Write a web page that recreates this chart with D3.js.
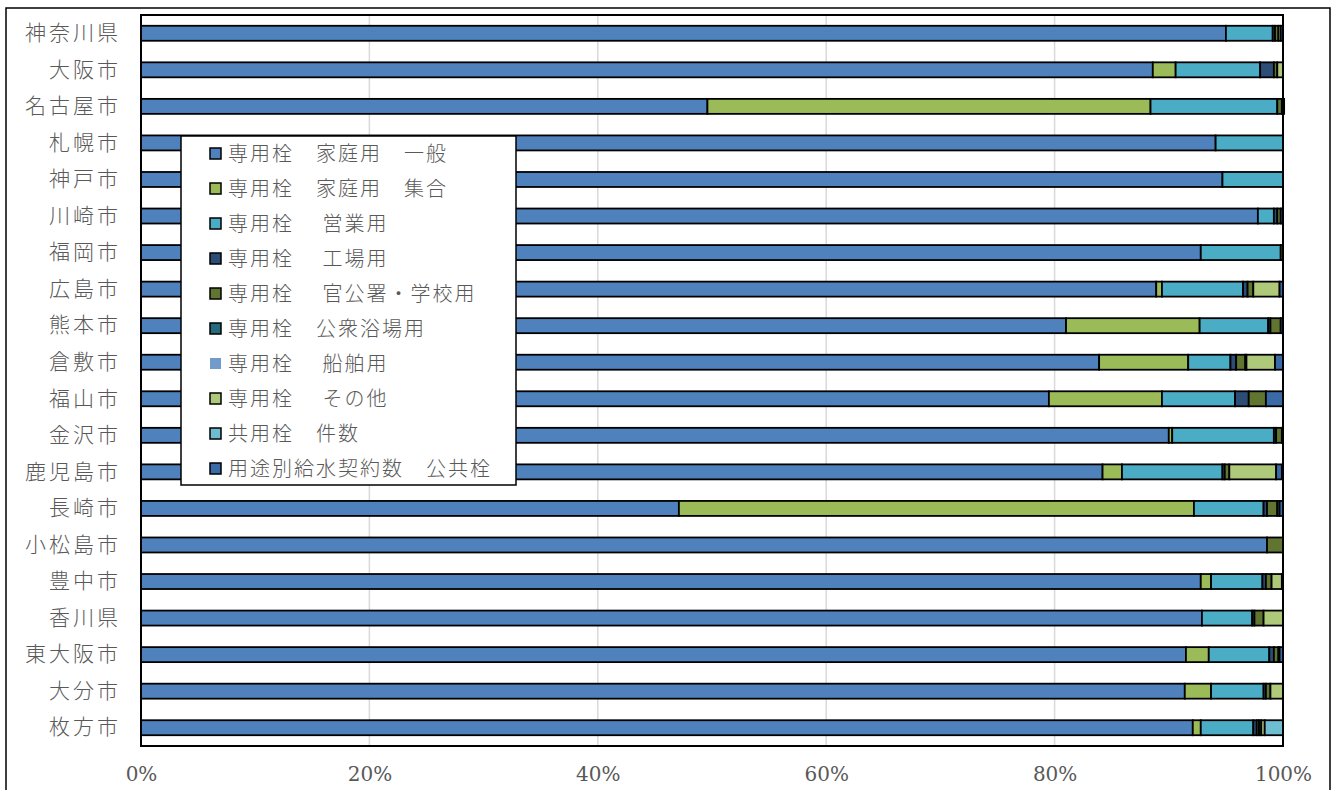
<!DOCTYPE html>
<html>
<head>
<meta charset="utf-8">
<script src="https://cdn.jsdelivr.net/npm/d3@7"></script>
<style>
  body { margin: 0; background: #fff; }
  svg text { fill: #595959; }
</style>
</head>
<body>
<div id="chart"></div>
<script>
const cities = ['神奈川県', '大阪市', '名古屋市', '札幌市', '神戸市', '川崎市', '福岡市', '広島市', '熊本市', '倉敷市',
  '福山市', '金沢市', '鹿児島市', '長崎市', '小松島市', '豊中市', '香川県', '東大阪市', '大分市', '枚方市'];

const seriesNames = ['専用栓\u3000家庭用\u3000一般', '専用栓\u3000家庭用\u3000集合', '専用栓\u3000 営業用', '専用栓\u3000 工場用',
  '専用栓\u3000 官公署・学校用', '専用栓\u3000公衆浴場用', '専用栓\u3000 船舶用', '専用栓\u3000 その他',
  '共用栓\u3000件数', '用途別給水契約数\u3000公共栓'];

const seriesColors = ['#4f81bd', '#9bbb59', '#4bacc6', '#2c4d75', '#5f7530', '#276a7c', '#729aca', '#afc97a', '#6fbdd1', '#3a6ba6'];

// percent shares per city, one array per series (same order as cities)
const ippan   = [95.0, 88.6, 49.6, 94.1, 94.7, 97.8, 92.8, 88.9, 81.0, 83.9, 79.5, 90.0, 84.2, 47.1, 98.6, 92.8, 92.9, 91.5, 91.4, 92.1];
const shugo   = [0, 2.0, 38.8, 0, 0, 0, 0, 0.5, 11.7, 7.8, 9.9, 0.3, 1.7, 45.1, 0, 0.9, 0, 2.0, 2.3, 0.7];
const eigyo   = [4.1, 7.4, 11.1, 5.9, 5.3, 1.4, 7.0, 7.1, 6.0, 3.7, 6.4, 8.9, 8.8, 6.1, 0, 4.5, 4.4, 5.3, 4.6, 4.6];
const kojo    = [0.2, 1.2, 0, 0, 0, 0.3, 0, 0.4, 0.2, 0.5, 1.2, 0.2, 0.2, 0.3, 0, 0.3, 0.2, 0.4, 0.2, 0.3];
const kankosho = [0.3, 0.3, 0.4, 0, 0, 0.3, 0.2, 0.5, 0.9, 0.8, 1.5, 0.5, 0.4, 0.9, 1.4, 0.5, 0.8, 0.4, 0.4, 0.2];
const yokujo  = [0, 0, 0, 0, 0, 0, 0, 0, 0, 0.1, 0, 0, 0, 0.2, 0, 0, 0, 0.1, 0, 0.2];
const senpaku = [0, 0, 0, 0, 0, 0, 0, 0, 0, 0, 0, 0, 0, 0, 0, 0, 0, 0, 0, 0];
const sonota  = [0.2, 0.5, 0, 0, 0, 0, 0, 2.3, 0, 2.5, 0, 0, 4.1, 0, 0, 0.9, 1.7, 0, 1.1, 0.3];
const kyoyo   = [0, 0, 0, 0, 0, 0, 0, 0, 0, 0, 0, 0, 0, 0, 0, 0, 0, 0, 0, 1.6];
const kokyo   = [0.2, 0, 0.2, 0, 0, 0.2, 0, 0.3, 0.2, 0.7, 1.5, 0.1, 0.5, 0.3, 0, 0.1, 0, 0.3, 0, 0];

const seriesValues = [ippan, shugo, eigyo, kojo, kankosho, yokujo, senpaku, sonota, kyoyo, kokyo];
const xTicks = [0, 20, 40, 60, 80, 100];

const width = 1343;
const height = 790;
const margin = {top: 15, right: 60, bottom: 44, left: 141};

const svg = d3.select('#chart')
  .append('svg')
  .attr('width', width)
  .attr('height', height);

// outer chart frame
svg.append('rect')
  .attr('x', 6).attr('y', 8)
  .attr('width', 1324).attr('height', 800)
  .attr('fill', 'none')
  .attr('stroke', '#000')
  .attr('stroke-width', 1.5);

const x = d3.scaleLinear()
  .domain([0, 100])
  .range([margin.left, width - margin.right]);

const y = d3.scaleBand()
  .domain(cities)
  .range([margin.top, height - margin.bottom])
  .paddingInner(0.59)
  .paddingOuter(0.295);

// gridlines
svg.append('g')
  .selectAll('line')
  .data(xTicks.slice(1, -1))
  .enter()
  .append('line')
  .attr('x1', d => x(d)).attr('x2', d => x(d))
  .attr('y1', margin.top).attr('y2', height - margin.bottom)
  .attr('stroke', '#d9d9d9')
  .attr('stroke-width', 1.5);

// stack the series per city
const rows = cities.map((c, i) => {
  const row = {city: c};
  seriesValues.forEach((vals, j) => { row['s' + j] = vals[i]; });
  return row;
});
const stack = d3.stack().keys(seriesValues.map((v, j) => 's' + j));
const stacked = stack(rows);

svg.append('g')
  .selectAll('g')
  .data(stacked)
  .enter()
  .append('g')
  .attr('fill', (d, j) => seriesColors[j])
  .selectAll('rect')
  .data(d => d.filter(s => s[1] - s[0] > 0))
  .enter()
  .append('rect')
  .attr('x', d => x(d[0]))
  .attr('width', d => x(d[1]) - x(d[0]))
  .attr('y', d => y(d.data.city))
  .attr('height', y.bandwidth())
  .attr('stroke', '#000')
  .attr('stroke-width', 1.8);

// plot area border
svg.append('rect')
  .attr('x', margin.left).attr('y', margin.top)
  .attr('width', width - margin.right - margin.left)
  .attr('height', height - margin.bottom - margin.top)
  .attr('fill', 'none')
  .attr('stroke', '#000')
  .attr('stroke-width', 2);

// category labels
const yAxis = svg.append('g')
  .attr('transform', 'translate(' + margin.left + ',0)')
  .call(d3.axisLeft(y).tickSize(0).tickPadding(20));
yAxis.select('.domain').remove();
yAxis.selectAll('text')
  .attr('font-family', '"Noto Sans CJK JP", sans-serif')
  .attr('font-weight', 300)
  .attr('font-size', 21)
  .attr('letter-spacing', 3)
  .style('fill', '#595959');

// x tick labels
const xAxis = svg.append('g')
  .attr('transform', 'translate(0,' + (height - margin.bottom) + ')')
  .call(d3.axisBottom(x).tickValues(xTicks).tickSize(0).tickPadding(21).tickFormat(d => d + '%'));
xAxis.select('.domain').remove();
xAxis.selectAll('text')
  .attr('font-family', '"DejaVu Serif", serif')
  .attr('font-size', 20)
  .style('fill', '#595959');

// legend
const legend = svg.append('g').attr('transform', 'translate(181,136)');
legend.append('rect')
  .attr('width', 335).attr('height', 349)
  .attr('fill', '#fff')
  .attr('stroke', '#000')
  .attr('stroke-width', 1.5);

const item = legend.selectAll('.item')
  .data(seriesNames)
  .enter()
  .append('g')
  .attr('class', 'item')
  .attr('transform', (d, i) => 'translate(29,' + (12 + i * 35) + ')');

item.append('rect')
  .attr('width', 11).attr('height', 11)
  .attr('fill', (d, i) => seriesColors[i])
  .attr('stroke', (d, i) => i === 6 ? 'none' : '#000')
  .attr('stroke-width', 1.5);

item.append('text')
  .attr('x', 18)
  .attr('y', 6)
  .attr('dy', '0.35em')
  .attr('font-family', '"Noto Sans CJK JP", sans-serif')
  .attr('font-weight', 300)
  .attr('font-size', 20)
  .attr('letter-spacing', 2)
  .text(d => d);
</script>
</body>
</html>
